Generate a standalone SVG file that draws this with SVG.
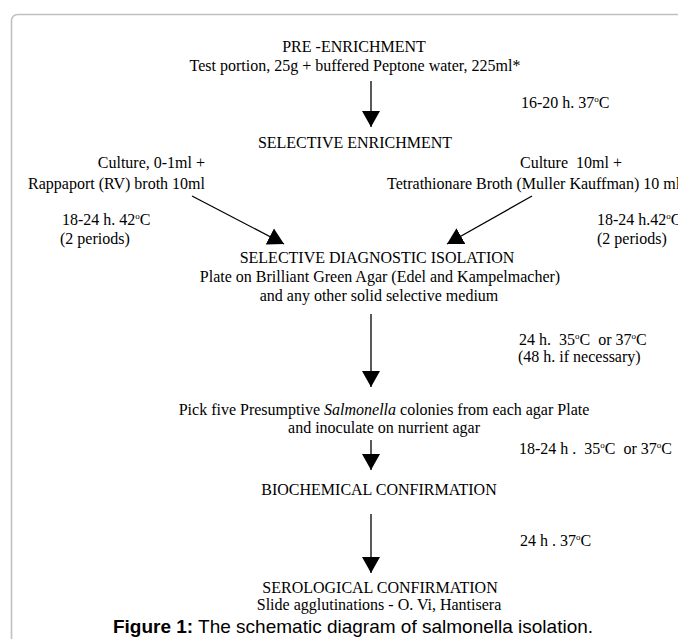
<svg xmlns="http://www.w3.org/2000/svg" width="678" height="639" viewBox="0 0 678 639">
<style>
.t{font-family:"Liberation Serif","Times New Roman",serif;font-size:16px;fill:#000}
.c{text-anchor:middle}
.e{text-anchor:end}
.sup{font-size:9px}
.cap{font-family:"Liberation Sans",Arial,sans-serif;font-size:19px;fill:#000;text-anchor:middle}
.ln{stroke:#000;stroke-width:1.3;fill:none}
</style>
<defs>
<marker id="ah" markerUnits="userSpaceOnUse" markerWidth="20" markerHeight="20" viewBox="0 0 20 20" refX="16" refY="10" orient="auto">
<polygon points="0,1 16,10 0,19" fill="#000"/>
</marker>
</defs>
<rect x="11.5" y="14.5" width="720" height="700" rx="6" fill="none" stroke="#c0c0c0" stroke-width="1.6"/>
<g id="pre">
<text class="t c" x="354" y="52">PRE -ENRICHMENT</text>
<text class="t c" x="355" y="71">Test portion, 25g + buffered Peptone water, 225ml*</text>
</g>
<g id="selEnr">
<text class="t c" x="355" y="148">SELECTIVE ENRICHMENT</text>
</g>
<g id="rv">
<text class="t e" x="205" y="168">Culture, 0-1ml +</text>
<text class="t e" x="205" y="189">Rappaport (RV) broth 10ml</text>
</g>
<g id="tt">
<text class="t" x="520" y="168" xml:space="preserve">Culture  10ml +</text>
<text class="t" x="387" y="189">Tetrathionare Broth (Muller Kauffman) 10 ml</text>
</g>
<g id="iso">
<text class="t c" x="377" y="263">SELECTIVE DIAGNOSTIC ISOLATION</text>
<text class="t c" x="380" y="282">Plate on Brilliant Green Agar (Edel and Kampelmacher)</text>
<text class="t c" x="379" y="301">and any other solid selective medium</text>
</g>
<g id="pick">
<text class="t c" x="384" y="415">Pick five Presumptive <tspan font-style="italic">Salmonella</tspan> colonies from each agar Plate</text>
<text class="t c" x="384" y="433">and inoculate on nurrient agar</text>
</g>
<g id="bio">
<text class="t c" x="379" y="495">BIOCHEMICAL CONFIRMATION</text>
</g>
<g id="sero">
<text class="t c" x="380" y="593">SEROLOGICAL CONFIRMATION</text>
<text class="t c" x="379" y="610">Slide agglutinations - O. Vi, Hantisera</text>
</g>
<g id="labels">
<text class="t" x="521" y="108">16-20 h. 37<tspan class="sup" dy="-6">o</tspan><tspan dy="6">C</tspan></text>
<text class="t" x="62" y="225">18-24 h. 42<tspan class="sup" dy="-6">o</tspan><tspan dy="6">C</tspan></text>
<text class="t" x="60" y="244">(2 periods)</text>
<text class="t" x="597" y="225">18-24 h.42<tspan class="sup" dy="-6">o</tspan><tspan dy="6">C</tspan></text>
<text class="t" x="597" y="244">(2 periods)</text>
<text class="t" x="519" y="345" xml:space="preserve">24 h.  35<tspan class="sup" dy="-6">o</tspan><tspan dy="6">C  or 37</tspan><tspan class="sup" dy="-6">o</tspan><tspan dy="6">C</tspan></text>
<text class="t" x="518" y="362">(48 h. if necessary)</text>
<text class="t" x="519" y="454" xml:space="preserve">18-24 h .  35<tspan class="sup" dy="-6">o</tspan><tspan dy="6">C  or 37</tspan><tspan class="sup" dy="-6">o</tspan><tspan dy="6">C</tspan></text>
<text class="t" x="520" y="546">24 h . 37<tspan class="sup" dy="-6">o</tspan><tspan dy="6">C</tspan></text>
</g>
<g id="connectors">
<line class="ln" x1="371" y1="81" x2="371" y2="127" marker-end="url(#ah)"/>
<line class="ln" x1="192" y1="196" x2="284" y2="244" marker-end="url(#ah)"/>
<line class="ln" x1="532" y1="196" x2="447" y2="244" marker-end="url(#ah)"/>
<line class="ln" x1="371" y1="314" x2="371" y2="387" marker-end="url(#ah)"/>
<line class="ln" x1="371" y1="440" x2="371" y2="470" marker-end="url(#ah)"/>
<line class="ln" x1="371" y1="514" x2="371" y2="573" marker-end="url(#ah)"/>
</g>
<text class="cap" x="353" y="633"><tspan font-weight="bold">Figure 1:</tspan> The schematic diagram of salmonella isolation.</text>
</svg>
